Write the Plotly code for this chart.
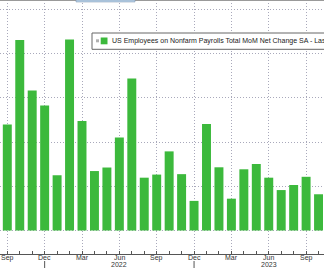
import plotly.graph_objects as go

# Months shown (Sep 2021 .. Oct 2023), monthly index positions
months = ["Sep 2021", "Oct 2021", "Nov 2021", "Dec 2021", "Jan 2022", "Feb 2022",
          "Mar 2022", "Apr 2022", "May 2022", "Jun 2022", "Jul 2022", "Aug 2022",
          "Sep 2022", "Oct 2022", "Nov 2022", "Dec 2022", "Jan 2023", "Feb 2023",
          "Mar 2023", "Apr 2023", "May 2023", "Jun 2023", "Jul 2023", "Aug 2023",
          "Sep 2023", "Oct 2023"]
# Nonfarm payrolls MoM net change (thousands)
payrolls = [480, 862, 633, 566, 250, 864, 495, 269, 285, 421, 688, 239,
            253, 358, 255, 134, 482, 286, 144, 277, 301, 239, 183, 206, 243, 164]
tick_labels = ["Sep", "Dec", "Mar", "Jun", "Sep", "Dec", "Mar", "Jun", "Sep"]
tick_pos = [0, 3, 6, 9, 12, 15, 18, 21, 24]
year_labels = ["2022", "2023"]
year_pos = [9, 21]
legend_text = "US Employees on Nonfarm Payrolls Total MoM Net Change SA - Last Price  150.00"

W, H = 324, 271
MB = 17
PH = H - MB

GREEN = "#3cb93c"
GRID = "#a9a9bb"
AX = "#555555"
FONT = "Liberation Sans, Arial, sans-serif"
FS = 7

x = list(range(len(months)))

fig = go.Figure()
fig.add_trace(go.Bar(x=x, y=payrolls, marker=dict(color=GREEN, line=dict(width=0)),
                     width=0.72, showlegend=False, hovertext=months))

def px_x(p):
    return p / W

def px_y(p):
    return (PH - p) / PH

shapes = []
# top strip remnants of panel above
shapes.append(dict(type="line", xref="paper", yref="paper", x0=0, x1=1, y0=px_y(0.5), y1=px_y(0.5),
                   line=dict(color="#9a9a9a", width=1)))
shapes.append(dict(type="rect", xref="paper", yref="paper", x0=px_x(76), x1=px_x(135),
                   y0=px_y(2), y1=px_y(0), fillcolor="#b9d3ea", line=dict(color="#7a8fa8", width=0.5)))
# legend box
shapes.append(dict(type="rect", xref="paper", yref="paper", x0=px_x(92), x1=px_x(340),
                   y0=px_y(49.3), y1=px_y(33), fillcolor="white", line=dict(color="#666666", width=1)))
shapes.append(dict(type="rect", xref="paper", yref="paper", x0=px_x(96), x1=px_x(99),
                   y0=px_y(42.3), y1=px_y(39.3), fillcolor="#b0b0b0", line=dict(width=0)))
shapes.append(dict(type="rect", xref="paper", yref="paper", x0=px_x(100.7), x1=px_x(107.5),
                   y0=px_y(44.3), y1=px_y(37.5), fillcolor=GREEN, line=dict(width=0)))
# year boundary marks below axis
for p in (3, 15):
    shapes.append(dict(type="line", xref="x", yref="paper", x0=p, x1=p,
                       y0=px_y(261), y1=px_y(268), line=dict(color=AX, width=1)))

annotations = [dict(text=legend_text, xref="paper", yref="paper", x=px_x(109.5), y=px_y(41.2),
                    xanchor="left", yanchor="middle", showarrow=False,
                    font=dict(family=FONT, size=FS, color="#222222"))]
for lab, p in zip(tick_labels, tick_pos):
    annotations.append(dict(text=lab, xref="x", yref="paper", x=p, y=px_y(257.5),
                            xanchor="center", yanchor="middle", showarrow=False,
                            font=dict(family=FONT, size=FS, color="#333333")))
for lab, p in zip(year_labels, year_pos):
    annotations.append(dict(text=lab, xref="x", yref="paper", x=p, y=px_y(264.5),
                            xanchor="center", yanchor="middle", showarrow=False,
                            font=dict(family=FONT, size=FS, color="#333333")))

x0 = -7.3 / 12.45
x1 = (W - 7.3) / 12.45
ymin = -23.5 * 200 / 44.2
ymax = ymin + PH * 200 / 44.2

fig.update_layout(
    width=W, height=H,
    margin=dict(l=0, r=0, t=0, b=MB),
    paper_bgcolor="white", plot_bgcolor="white",
    bargap=0.28,
    shapes=shapes, annotations=annotations,
    xaxis=dict(range=[x0, x1], tickmode="array", tickvals=tick_pos, ticktext=tick_labels,
               showticklabels=False,
               ticks="inside", ticklen=3, tickcolor=AX,
               showline=True, linecolor=AX, linewidth=1,
               showgrid=True, gridcolor=GRID, griddash="1px,2px", gridwidth=1,
               zeroline=False,
               minor=dict(tickmode="linear", tick0=0, dtick=1, ticks="inside", ticklen=3,
                          tickcolor=AX, showgrid=False)),
    yaxis=dict(range=[ymin, ymax], tickmode="linear", tick0=0, dtick=200,
               showticklabels=False, ticks="", showgrid=True, gridcolor=GRID,
               griddash="1px,2px", gridwidth=1, zeroline=False, showline=False),
)

fig.write_html("out.html")
